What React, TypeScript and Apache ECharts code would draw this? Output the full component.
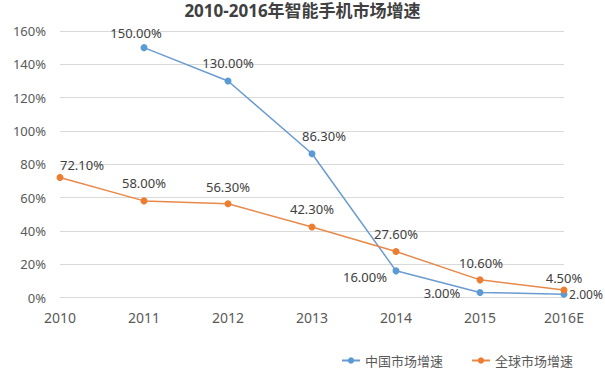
import React, { useEffect, useRef } from "react";
import * as echarts from "echarts";

const years = ["2010", "2011", "2012", "2013", "2014", "2015", "2016E"];
const chinaGrowth: (number | null)[] = [null, 150, 130, 86.3, 16, 3, 2];
const globalGrowth: number[] = [72.1, 58, 56.3, 42.3, 27.6, 10.6, 4.5];
const yTicks = [0, 20, 40, 60, 80, 100, 120, 140, 160];

const chinaOffsets: [number, number][] = [[0, 0], [-8, -15], [0, -18], [12, -18], [-31, 6], [-38, 0], [22, 0]];
const globalOffsets: [number, number][] = [[22, -12], [0, -18], [0, -17], [0, -18], [0, -18], [1, -17], [0, -12]];

const FONT = '"Noto Sans", "Noto Sans CJK SC", sans-serif';

export default function App() {
  const ref = useRef<HTMLDivElement>(null);
  useEffect(() => {
    if (!ref.current) return;
    const chart = echarts.init(ref.current, undefined, { renderer: "svg" });
    const labelFor = (v: number | null, off: [number, number], small = false) => ({
      show: true,
      position: "inside",
      align: "center",
      verticalAlign: "middle",
      offset: off,
      fontSize: small ? 12 : 13,
      color: "#404040",
      fontFamily: FONT,
      formatter: () => (v == null ? "" : v.toFixed(2) + "%"),
    });
    chart.setOption({
      animation: false,
      textStyle: { fontFamily: FONT },
      title: {
        text: "2010-2016年智能手机市场增速",
        left: "center",
        top: 2,
        padding: 0,
        textStyle: { fontSize: 17, fontWeight: "bold", color: "#404040", fontFamily: FONT },
      },
      grid: { left: 60, right: 41, top: 31, bottom: 83.5 },
      legend: {
        left: 336,
        top: 349,
        itemWidth: 18,
        itemHeight: 8,
        itemGap: 28,
        textStyle: { fontSize: 13, color: "#595959", fontFamily: FONT },
        data: ["中国市场增速", "全球市场增速"],
      },
      xAxis: {
        type: "category",
        data: years,
        boundaryGap: false,
        axisLine: { show: true, lineStyle: { color: "#d9d9d9" } },
        axisTick: { show: false },
        axisLabel: { fontSize: 14, color: "#595959", margin: 13, fontFamily: FONT },
      },
      yAxis: {
        type: "value",
        min: yTicks[0],
        max: yTicks[yTicks.length - 1],
        interval: 20,
        axisLine: { show: false },
        axisTick: { show: false },
        axisLabel: { fontSize: 13, color: "#595959", margin: 14, formatter: "{value}%", fontFamily: FONT },
        splitLine: { lineStyle: { color: "#d9d9d9" } },
      },
      series: [
        {
          name: "中国市场增速",
          type: "line",
          data: chinaGrowth.map((v, i) => ({
            value: v,
            label: labelFor(v, chinaOffsets[i], i === 6),
          })),
          symbol: "circle",
          symbolSize: 7,
          lineStyle: { width: 1.5, color: "#6A9BD0" },
          itemStyle: { color: "#5B9BD5" },
        },
        {
          name: "全球市场增速",
          type: "line",
          data: globalGrowth.map((v, i) => ({
            value: v,
            label: labelFor(v, globalOffsets[i]),
          })),
          symbol: "circle",
          symbolSize: 7,
          lineStyle: { width: 1.5, color: "#E8894A" },
          itemStyle: { color: "#ED7D31" },
        },
      ],
    });
    return () => chart.dispose();
  }, []);
  return <div ref={ref} style={{ width: 605, height: 381, position: "absolute", left: 0, top: 0 }} />;
}
